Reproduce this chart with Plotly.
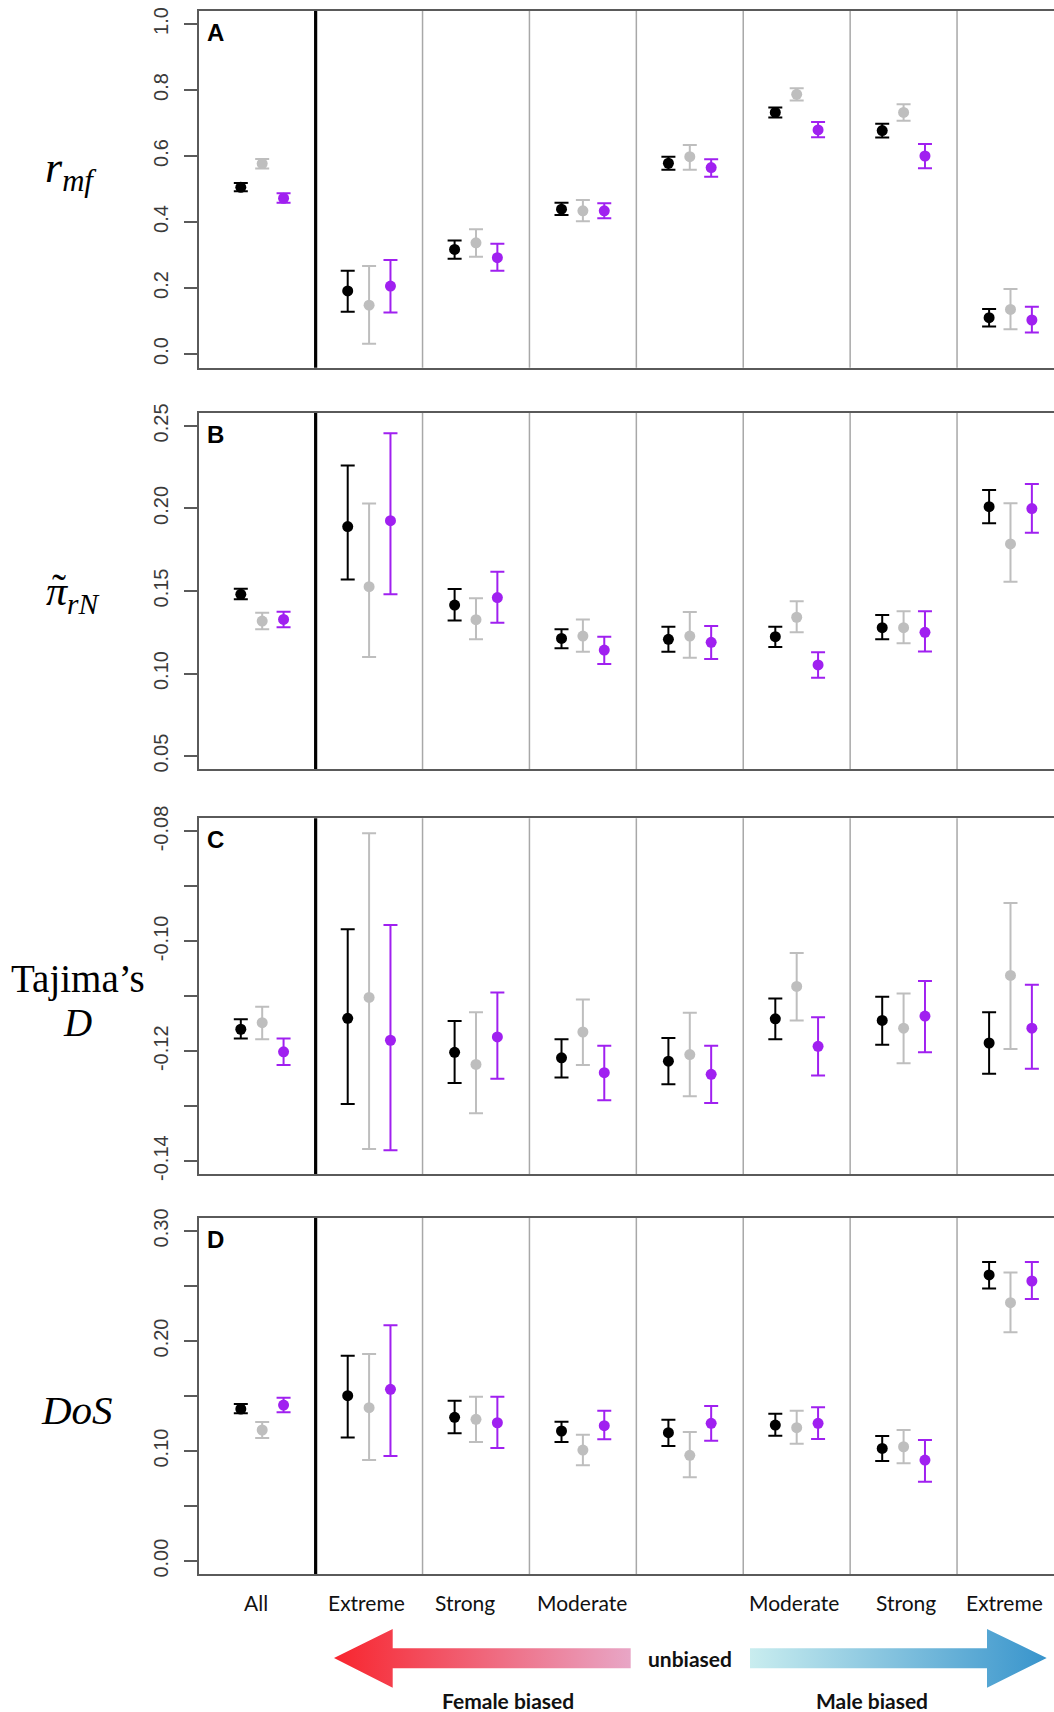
import plotly.graph_objects as go

# ---------------- data ----------------
groups = ["All", "Extreme", "Strong", "Moderate", "", "Moderate", "Strong", "Extreme"]
series_names = ["black", "grey", "purple"]
series_colors = ["#000000", "#BEBEBE", "#A020F0"]

# Panel A : r_mf
rmf_black = [0.505, 0.191, 0.317, 0.439, 0.578, 0.732, 0.677, 0.110]
rmf_black_lo = [0.493, 0.128, 0.289, 0.421, 0.558, 0.717, 0.656, 0.083]
rmf_black_hi = [0.518, 0.252, 0.344, 0.458, 0.598, 0.747, 0.698, 0.136]
rmf_grey = [0.577, 0.148, 0.337, 0.434, 0.598, 0.787, 0.732, 0.135]
rmf_grey_lo = [0.562, 0.031, 0.295, 0.402, 0.558, 0.768, 0.707, 0.075]
rmf_grey_hi = [0.591, 0.267, 0.378, 0.467, 0.633, 0.805, 0.757, 0.197]
rmf_purple = [0.472, 0.206, 0.292, 0.434, 0.565, 0.679, 0.600, 0.103]
rmf_purple_lo = [0.458, 0.126, 0.252, 0.411, 0.537, 0.657, 0.563, 0.065]
rmf_purple_hi = [0.487, 0.285, 0.334, 0.457, 0.590, 0.703, 0.636, 0.143]

# Panel B : pi_rN
pi_black = [0.1480, 0.1890, 0.1415, 0.1213, 0.1207, 0.1223, 0.1278, 0.2011]
pi_black_lo = [0.1450, 0.1570, 0.1322, 0.1153, 0.1132, 0.1161, 0.1207, 0.1910]
pi_black_hi = [0.1514, 0.2260, 0.1512, 0.1268, 0.1284, 0.1284, 0.1355, 0.2112]
pi_grey = [0.1318, 0.1526, 0.1326, 0.1227, 0.1227, 0.1341, 0.1278, 0.1785]
pi_grey_lo = [0.1268, 0.1100, 0.1207, 0.1132, 0.1096, 0.1250, 0.1183, 0.1556]
pi_grey_hi = [0.1368, 0.2030, 0.1456, 0.1328, 0.1373, 0.1438, 0.1377, 0.2032]
pi_purple = [0.1328, 0.1926, 0.1460, 0.1142, 0.1189, 0.1052, 0.1250, 0.1999]
pi_purple_lo = [0.1280, 0.1480, 0.1308, 0.1058, 0.1088, 0.0975, 0.1134, 0.1853]
pi_purple_hi = [0.1375, 0.2456, 0.1617, 0.1223, 0.1288, 0.1129, 0.1377, 0.2148]

# Panel C : Tajima's D
td_black = [-0.1160, -0.1140, -0.1202, -0.1212, -0.1218, -0.1141, -0.1144, -0.1185]
td_black_lo = [-0.1177, -0.1296, -0.1258, -0.1248, -0.1260, -0.1178, -0.1188, -0.1241]
td_black_hi = [-0.1142, -0.0978, -0.1145, -0.1178, -0.1176, -0.1104, -0.1101, -0.1129]
td_grey = [-0.1148, -0.1102, -0.1224, -0.1165, -0.1206, -0.1082, -0.1158, -0.1062]
td_grey_lo = [-0.1178, -0.1378, -0.1313, -0.1225, -0.1282, -0.1144, -0.1222, -0.1196]
td_grey_hi = [-0.1119, -0.0803, -0.1129, -0.1106, -0.1130, -0.1021, -0.1095, -0.0930]
td_purple = [-0.1201, -0.1180, -0.1174, -0.1239, -0.1242, -0.1191, -0.1136, -0.1158]
td_purple_lo = [-0.1225, -0.1380, -0.1250, -0.1289, -0.1294, -0.1244, -0.1202, -0.1232]
td_purple_hi = [-0.1177, -0.0970, -0.1093, -0.1190, -0.1190, -0.1138, -0.1072, -0.1079]

# Panel D : DoS
dos_black = [0.1382, 0.1503, 0.1306, 0.1182, 0.1167, 0.1236, 0.1024, 0.2600]
dos_black_lo = [0.1343, 0.1124, 0.1161, 0.1082, 0.1045, 0.1139, 0.0909, 0.2476]
dos_black_hi = [0.1427, 0.1866, 0.1457, 0.1266, 0.1285, 0.1339, 0.1136, 0.2718]
dos_grey = [0.1191, 0.1394, 0.1288, 0.1009, 0.0961, 0.1212, 0.1039, 0.2348]
dos_grey_lo = [0.1118, 0.0918, 0.1082, 0.0870, 0.0761, 0.1066, 0.0888, 0.2079]
dos_grey_hi = [0.1264, 0.1882, 0.1494, 0.1148, 0.1173, 0.1366, 0.1191, 0.2621]
dos_purple = [0.1418, 0.1561, 0.1257, 0.1230, 0.1252, 0.1252, 0.0918, 0.2545]
dos_purple_lo = [0.1352, 0.0955, 0.1027, 0.1106, 0.1094, 0.1109, 0.0721, 0.2382]
dos_purple_hi = [0.1485, 0.2143, 0.1494, 0.1366, 0.1409, 0.1397, 0.1100, 0.2718]

# tick labels (labelled ticks + unlabelled minor ticks)
rmf_ticks = [0.0, 0.2, 0.4, 0.6, 0.8, 1.0]
rmf_ticktext = ["0.0", "0.2", "0.4", "0.6", "0.8", "1.0"]
rmf_minor = []
pi_ticks = [0.05, 0.10, 0.15, 0.20, 0.25]
pi_ticktext = ["0.05", "0.10", "0.15", "0.20", "0.25"]
pi_minor = []
td_ticks = [-0.14, -0.12, -0.10, -0.08]
td_ticktext = ["-0.14", "-0.12", "-0.10", "-0.08"]
td_minor = [-0.13, -0.11, -0.09]
dos_ticks = [0.00, 0.10, 0.20, 0.30]
dos_ticktext = ["0.00", "0.10", "0.20", "0.30"]
dos_minor = [0.05, 0.15, 0.25]

bias_labels = ["Female biased", "unbiased", "Male biased"]

# ---------------- layout geometry ----------------
W, H = 1054, 1712
def py(px):
    return 1 - px / H

panels = [
    dict(letter="A", mean=[rmf_black, rmf_grey, rmf_purple],
         lo=[rmf_black_lo, rmf_grey_lo, rmf_purple_lo],
         hi=[rmf_black_hi, rmf_grey_hi, rmf_purple_hi],
         ticks=rmf_ticks, ticktext=rmf_ticktext, minor=rmf_minor,
         yrange=[-0.0415, 1.0403], top=10.7, bottom=367.7),
    dict(letter="B", mean=[pi_black, pi_grey, pi_purple],
         lo=[pi_black_lo, pi_grey_lo, pi_purple_lo],
         hi=[pi_black_hi, pi_grey_hi, pi_purple_hi],
         ticks=pi_ticks, ticktext=pi_ticktext, minor=pi_minor,
         yrange=[0.042, 0.258], top=412.7, bottom=769.3),
    dict(letter="C", mean=[td_black, td_grey, td_purple],
         lo=[td_black_lo, td_grey_lo, td_purple_lo],
         hi=[td_black_hi, td_grey_hi, td_purple_hi],
         ticks=td_ticks, ticktext=td_ticktext, minor=td_minor,
         yrange=[-0.1424, -0.0776], top=818.3, bottom=1174.3),
    dict(letter="D", mean=[dos_black, dos_grey, dos_purple],
         lo=[dos_black_lo, dos_grey_lo, dos_purple_lo],
         hi=[dos_black_hi, dos_grey_hi, dos_purple_hi],
         ticks=dos_ticks, ticktext=dos_ticktext, minor=dos_minor,
         yrange=[-0.012, 0.312], top=1217.7, bottom=1574.3),
]

offsets = [-0.2, 0.0, 0.2]
xpos = list(range(1, len(groups) + 1))
xrange_ = [0.407, 8.407]
x_left_px = 198.8
px_per_unit = (W - x_left_px) / (xrange_[1] - xrange_[0])
# small horizontal nudges (px) of the category labels, as placed in the original
label_nudge_px = [-6, -3, -11, -1, 0, -3, 2, -6]

fig = go.Figure()
layout = dict(
    width=W, height=H,
    margin=dict(l=0, r=0, t=0, b=0, pad=0, autoexpand=False),
    paper_bgcolor="white", plot_bgcolor="white",
    showlegend=False,
)
shapes = []
annotations = []
axis_color = "#5a5a5a"

for p_i, p in enumerate(panels):
    n = p_i + 1
    xa = "x" if n == 1 else f"x{n}"
    ya = "y" if n == 1 else f"y{n}"
    for s_i in range(3):
        m = p["mean"][s_i]
        lo = p["lo"][s_i]
        hi = p["hi"][s_i]
        fig.add_trace(go.Scatter(
            x=[g + offsets[s_i] for g in xpos], y=m,
            mode="markers", name=series_names[s_i],
            marker=dict(color=series_colors[s_i], size=11, line=dict(width=0)),
            error_y=dict(type="data", symmetric=False,
                         array=[h - v for h, v in zip(hi, m)],
                         arrayminus=[v - l for v, l in zip(m, lo)],
                         color=series_colors[s_i], thickness=2, width=7),
            xaxis=xa, yaxis=ya, cliponaxis=False,
        ))
    dom = [py(p["bottom"]), py(p["top"])]
    layout[f"xaxis{'' if n == 1 else n}"] = dict(
        domain=[x_left_px / W, 1], range=xrange_, anchor=ya, automargin=False,
        showline=True, mirror=True, linecolor=axis_color, linewidth=2,
        showgrid=False, zeroline=False, showticklabels=False, ticks="",
    )
    yax = dict(
        domain=dom, range=p["yrange"], anchor=xa, automargin=False,
        showline=True, mirror=False, linecolor=axis_color, linewidth=2,
        showgrid=False, zeroline=False,
        tickmode="array", tickvals=p["ticks"], ticktext=p["ticktext"],
        ticks="outside", ticklen=13, tickwidth=1.5, tickcolor=axis_color,
        tickangle=-90, ticklabelstandoff=8,
        tickfont=dict(family="Liberation Sans, Arial", size=20, color="#3a3a3a"),
    )
    if p["minor"]:
        yax["minor"] = dict(tickmode="array", tickvals=p["minor"], ticks="outside",
                            ticklen=13, tickwidth=1.5, tickcolor=axis_color,
                            showgrid=False)
    layout[f"yaxis{'' if n == 1 else n}"] = yax
    # dividers between groups
    for k in range(1, len(groups)):
        shapes.append(dict(
            type="line", xref=xa, yref=f"{ya} domain",
            x0=k + 0.5, x1=k + 0.5, y0=0, y1=1, layer="below",
            line=dict(color="#000000" if k == 1 else "#a8a8a8",
                      width=3.2 if k == 1 else 1.5),
        ))
    # panel letter
    annotations.append(dict(
        text=f"<b>{p['letter']}</b>", xref="paper", yref="paper",
        x=205 / W, y=py(p["top"] + 21.5), xanchor="left", yanchor="middle",
        showarrow=False,
        font=dict(family="Liberation Sans, Arial", size=24, color="black"),
    ))

# y-axis titles
serif = "Liberation Serif, Times New Roman, serif"
ytitles = [
    dict(text="<i>r</i><sub><i>mf</i></sub>", x=71, y=170, size=44),
    dict(text="<i>π</i><sub><i>rN</i></sub>", x=72, y=594, size=42),
    dict(text="˜", x=59, y=589, size=42),
    dict(text="Tajima’s", x=78, y=979, size=39),
    dict(text="<i>D</i>", x=77, y=1022, size=39),
    dict(text="<i>DoS</i>", x=77, y=1410, size=41),
]
for t in ytitles:
    annotations.append(dict(
        text=t["text"], x=t["x"] / W, y=py(t["y"]), xref="paper", yref="paper",
        xanchor="center", yanchor="middle", showarrow=False,
        font=dict(family=serif, size=t["size"], color="black"),
    ))

# x category labels under the bottom panel
for g, lab, nud in zip(xpos, groups, label_nudge_px):
    if lab:
        annotations.append(dict(
            text=lab, xref="x4", yref="paper", x=g + nud / px_per_unit, y=py(1602),
            xanchor="center", yanchor="middle", showarrow=False,
            font=dict(family="Lato, Open Sans, sans-serif", size=21, color="#111111"),
        ))

# bias direction arrows (pixel coordinate overlay axis)
arrow_dom_top = 1609.28
layout["xaxis5"] = dict(domain=[0, 1], range=[0, W], visible=False, anchor="y5",
                        fixedrange=True, automargin=False)
layout["yaxis5"] = dict(domain=[0, py(arrow_dom_top)], range=[H, arrow_dom_top],
                        visible=False, anchor="x5", fixedrange=True, automargin=False)
left_arrow_x = [334, 392.7, 392.7, 630.7, 630.7, 392.7, 392.7, 334]
left_arrow_y = [1658, 1629, 1648.3, 1648.3, 1668.3, 1668.3, 1687.7, 1658]
right_arrow_x = [750, 987, 987, 1046.7, 987, 987, 750, 750]
right_arrow_y = [1648.3, 1648.3, 1629, 1658, 1687.7, 1668.3, 1668.3, 1648.3]
fig.add_trace(go.Scatter(
    x=left_arrow_x, y=left_arrow_y, mode="lines", fill="toself",
    line=dict(width=0, color="rgba(0,0,0,0)"),
    fillgradient=dict(type="horizontal",
                      colorscale=[[0, "#f8252e"], [1, "#e8a6c6"]]),
    xaxis="x5", yaxis="y5", hoverinfo="skip",
))
fig.add_trace(go.Scatter(
    x=right_arrow_x, y=right_arrow_y, mode="lines", fill="toself",
    line=dict(width=0, color="rgba(0,0,0,0)"),
    fillgradient=dict(type="horizontal",
                      colorscale=[[0, "#c9edef"], [1, "#3894cc"]]),
    xaxis="x5", yaxis="y5", hoverinfo="skip",
))
for lab, cx, cy in zip(bias_labels, [508, 690, 872], [1700, 1658, 1700]):
    annotations.append(dict(
        text=f"<b>{lab}</b>", xref="paper", yref="paper", x=cx / W, y=py(cy),
        xanchor="center", yanchor="middle", showarrow=False,
        font=dict(family="Lato, Open Sans, sans-serif", size=21, color="#111111"),
    ))

layout["shapes"] = shapes
layout["annotations"] = annotations
fig.update_layout(**layout)
fig.write_html(
    "out.html",
    config={"displayModeBar": False},
    post_script="document.body.style.margin='0px';"
                "document.body.style.overflow='hidden';",
)
